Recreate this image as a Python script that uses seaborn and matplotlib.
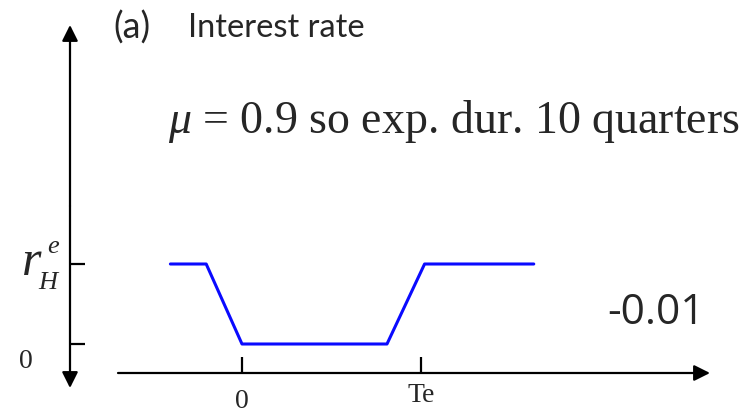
import numpy as np
import pandas as pd
import matplotlib
matplotlib.use("Agg")
import matplotlib.pyplot as plt
import seaborn as sns

# time in quarters (shock at 0, expected end Te) and interest-rate path
time_q = [-4, -2, 0, 8.1, 10.2, 16.3]
rate = [0.01, 0.01, 0.0, 0.0, 0.01, 0.01]
Te = 10
r_high = 0.01
x_ticks = [0, Te]
x_tick_labels = ["0", "Te"]
panel_txt = "(a)"
title_txt = "Interest rate"
note_txt = r"$\mu$ = 0.9 so exp. dur. 10 quarters"
shock_txt = "-0.01"

sns.set_style("white")
plt.rcParams["mathtext.fontset"] = "custom"
plt.rcParams["mathtext.rm"] = "Liberation Serif"
plt.rcParams["mathtext.it"] = "Liberation Serif:italic"

fig = plt.figure(figsize=(7.52, 4.13), dpi=100)
ax = fig.add_axes([0, 0, 1, 1])
ax.axis("off")

# pixel -> data mapping: t=0 at x=242px, 17.9px per quarter; r=0 at 344px, 8000px per unit
px_t = 17.9
x0 = 242
y0 = 344
px_r = 8000
ax.set_xlim(-x0 / px_t, (752 - x0) / px_t)
ax.set_ylim((y0 - 413) / px_r, y0 / px_r)

def tx(p):
    return (p - x0) / px_t

def ry(p):
    return (y0 - p) / px_r

df = pd.DataFrame({"t": time_q, "r": rate})
sns.lineplot(data=df, x="t", y="r", ax=ax, color="#0a0aff", lw=2.2, sort=False)

# axes arrows
arr = dict(arrowstyle="-|>", color="black", lw=1.6, mutation_scale=24, shrinkA=0, shrinkB=0)
ax.annotate("", xy=(tx(70), ry(25)), xytext=(tx(70), ry(206)), arrowprops=arr)
ax.annotate("", xy=(tx(70), ry(388)), xytext=(tx(70), ry(206)), arrowprops=arr)
ax.annotate("", xy=(tx(710), ry(373)), xytext=(tx(118), ry(373)), arrowprops=arr)

# ticks
ax.vlines(x_ticks, ry(373), ry(357), color="black", lw=1.6)
ax.hlines([r_high, 0.0], tx(70), tx(85), color="black", lw=1.6)

serif = "Liberation Serif"
ax.text(x_ticks[0], ry(401), x_tick_labels[0], ha="center", va="center", fontsize=20, family=serif)
ax.text(x_ticks[1], ry(395), x_tick_labels[1], ha="center", va="center", fontsize=20, family=serif)
ax.text(tx(26), ry(362), "0", ha="center", va="center", fontsize=20, family=serif)

# r_H^e built from pieces so the sub/superscript sit like the original
ax.text(tx(22), ry(275), "r", ha="left", va="baseline", fontsize=36, family=serif, style="italic")
ax.text(tx(38), ry(289), "H", ha="left", va="baseline", fontsize=19, family=serif, style="italic")
ax.text(tx(47), ry(253), "e", ha="left", va="baseline", fontsize=19, family=serif, style="italic")

ax.text(tx(113), ry(28), panel_txt, ha="left", va="center", fontsize=26, family="Lato")
ax.text(tx(188), ry(28), title_txt, ha="left", va="center", fontsize=23.5, family="Lato")
ax.text(tx(168), ry(133), note_txt, ha="left", va="baseline", fontsize=33, family=serif)
ax.text(tx(607), ry(313), shock_txt, ha="left", va="center", fontsize=30.5, family="Open Sans")

fig.savefig("out.png", dpi=100)
